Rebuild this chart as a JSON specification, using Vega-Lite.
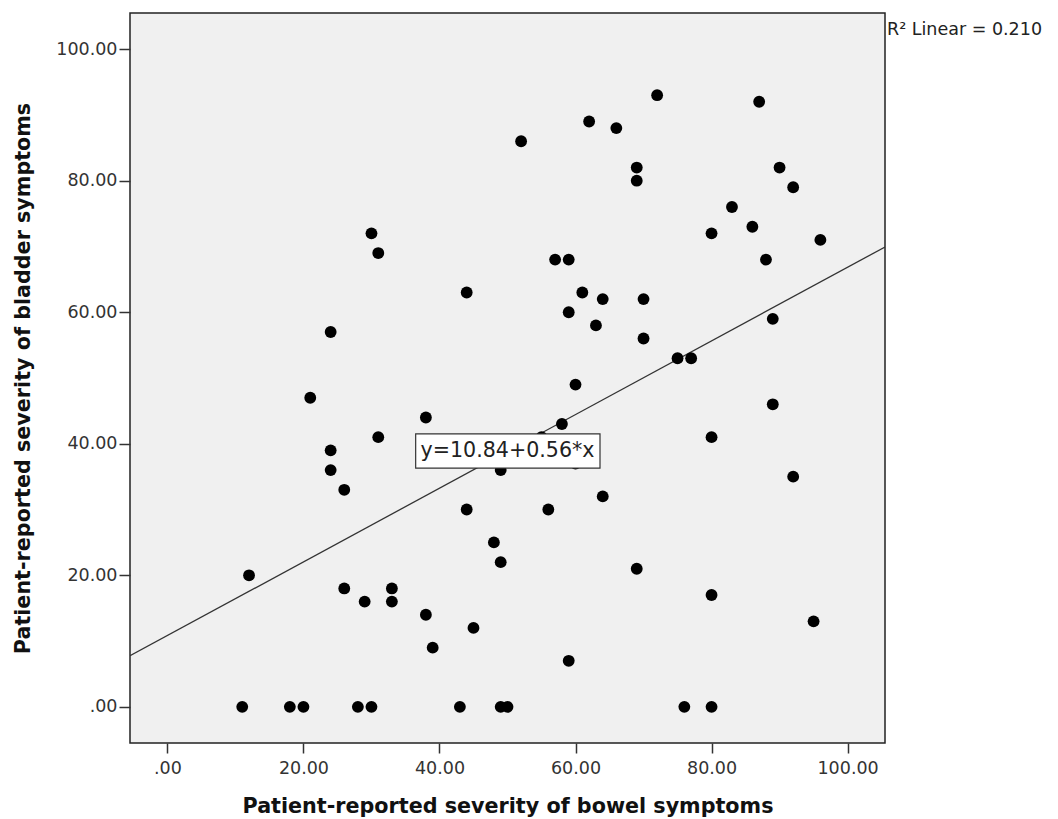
{
  "$schema": "https://vega.github.io/schema/vega-lite/v6.json",
  "autosize": {"type": "none"},
  "padding": {"left": 130, "top": 13, "right": 173, "bottom": 76},
  "width": 755,
  "height": 730,
  "background": "white",
  "config": {
    "view": {"stroke": "#222222", "strokeWidth": 1.5, "fill": "#f0f0f0"},
    "axis": {
      "grid": false,
      "domain": false,
      "tickColor": "#333333",
      "tickWidth": 1.5,
      "labelFont": "DejaVu Sans",
      "labelFontSize": 17.5,
      "labelColor": "#333333",
      "titleFont": "DejaVu Sans",
      "titleFontWeight": "bold",
      "titleFontSize": 20.7,
      "titleColor": "#111111"
    }
  },
  "datasets": {
    "patients": [
      {"bowel": 30, "bladder": 72}, {"bowel": 31, "bladder": 69}, {"bowel": 44, "bladder": 63},
      {"bowel": 24, "bladder": 57}, {"bowel": 72, "bladder": 93}, {"bowel": 87, "bladder": 92},
      {"bowel": 62, "bladder": 89}, {"bowel": 66, "bladder": 88}, {"bowel": 52, "bladder": 86},
      {"bowel": 69, "bladder": 82}, {"bowel": 69, "bladder": 80}, {"bowel": 90, "bladder": 82},
      {"bowel": 92, "bladder": 79}, {"bowel": 83, "bladder": 76}, {"bowel": 86, "bladder": 73},
      {"bowel": 80, "bladder": 72}, {"bowel": 96, "bladder": 71}, {"bowel": 57, "bladder": 68},
      {"bowel": 59, "bladder": 68}, {"bowel": 88, "bladder": 68}, {"bowel": 61, "bladder": 63},
      {"bowel": 64, "bladder": 62}, {"bowel": 70, "bladder": 62}, {"bowel": 59, "bladder": 60},
      {"bowel": 63, "bladder": 58}, {"bowel": 70, "bladder": 56}, {"bowel": 89, "bladder": 59},
      {"bowel": 75, "bladder": 53}, {"bowel": 77, "bladder": 53}, {"bowel": 60, "bladder": 49},
      {"bowel": 89, "bladder": 46}, {"bowel": 58, "bladder": 43}, {"bowel": 55, "bladder": 41},
      {"bowel": 80, "bladder": 41}, {"bowel": 60, "bladder": 37}, {"bowel": 49, "bladder": 36},
      {"bowel": 92, "bladder": 35}, {"bowel": 64, "bladder": 32}, {"bowel": 56, "bladder": 30},
      {"bowel": 48, "bladder": 25}, {"bowel": 49, "bladder": 22}, {"bowel": 69, "bladder": 21},
      {"bowel": 80, "bladder": 17}, {"bowel": 95, "bladder": 13}, {"bowel": 59, "bladder": 7},
      {"bowel": 49, "bladder": 0}, {"bowel": 50, "bladder": 0}, {"bowel": 76, "bladder": 0},
      {"bowel": 80, "bladder": 0}, {"bowel": 21, "bladder": 47}, {"bowel": 38, "bladder": 44},
      {"bowel": 31, "bladder": 41}, {"bowel": 24, "bladder": 39}, {"bowel": 24, "bladder": 36},
      {"bowel": 26, "bladder": 33}, {"bowel": 44, "bladder": 30}, {"bowel": 12, "bladder": 20},
      {"bowel": 26, "bladder": 18}, {"bowel": 29, "bladder": 16}, {"bowel": 33, "bladder": 18},
      {"bowel": 33, "bladder": 16}, {"bowel": 38, "bladder": 14}, {"bowel": 45, "bladder": 12},
      {"bowel": 39, "bladder": 9}, {"bowel": 11, "bladder": 0}, {"bowel": 18, "bladder": 0},
      {"bowel": 20, "bladder": 0}, {"bowel": 28, "bladder": 0}, {"bowel": 30, "bladder": 0},
      {"bowel": 43, "bladder": 0}
    ],
    "fit": [
      {"bowel": -5.5, "bladder": 7.76},
      {"bowel": 105.5, "bladder": 69.92}
    ]
  },
  "layer": [
    {
      "data": {"name": "fit"},
      "mark": {"type": "line", "color": "#333333", "strokeWidth": 1.3, "clip": true},
      "encoding": {
        "x": {
          "field": "bowel", "type": "quantitative",
          "scale": {"domain": [-5.5, 105.5], "nice": false, "zero": false},
          "axis": {
            "values": [0, 20, 40, 60, 80, 100],
            "labelExpr": "datum.value == 0 ? '.00' : format(datum.value, '.2f')",
            "tickSize": 10,
            "labelPadding": 6,
            "title": "Patient-reported severity of bowel symptoms",
            "titleBaseline": "alphabetic",
            "titleY": 69
          }
        },
        "y": {
          "field": "bladder", "type": "quantitative",
          "scale": {"domain": [-5.5, 105.5], "nice": false, "zero": false},
          "axis": {
            "values": [0, 20, 40, 60, 80, 100],
            "labelExpr": "datum.value == 0 ? '.00' : format(datum.value, '.2f')",
            "tickSize": 11,
            "labelPadding": 2,
            "title": "Patient-reported severity of bladder symptoms",
            "titleBaseline": "alphabetic",
            "titleX": -101
          }
        }
      }
    },
    {
      "data": {"name": "patients"},
      "mark": {"type": "circle", "size": 140, "color": "#000000", "opacity": 1},
      "encoding": {
        "x": {"field": "bowel", "type": "quantitative"},
        "y": {"field": "bladder", "type": "quantitative"}
      }
    },
    {
      "data": {"values": [{}]},
      "mark": {"type": "rect", "fill": "#ffffff", "stroke": "#333333", "strokeWidth": 1.2},
      "encoding": {
        "x": {"datum": 36.5, "type": "quantitative"},
        "x2": {"datum": 63.6},
        "y": {"datum": 41.5, "type": "quantitative"},
        "y2": {"datum": 36.3}
      }
    },
    {
      "data": {"values": [{"label": "y=10.84+0.56*x"}]},
      "mark": {"type": "text", "font": "DejaVu Sans", "fontSize": 20.6, "color": "#222222", "align": "center", "baseline": "middle"},
      "encoding": {
        "x": {"datum": 50, "type": "quantitative"},
        "y": {"datum": 38.9, "type": "quantitative"},
        "text": {"field": "label"}
      }
    },
    {
      "data": {"values": [{"label": "R² Linear = 0.210"}]},
      "mark": {"type": "text", "font": "DejaVu Sans", "fontSize": 17.5, "color": "#222222", "align": "left", "baseline": "alphabetic", "dx": 2},
      "encoding": {
        "x": {"datum": 105.5, "type": "quantitative"},
        "y": {"datum": 102.2, "type": "quantitative"},
        "text": {"field": "label"}
      }
    }
  ]
}
